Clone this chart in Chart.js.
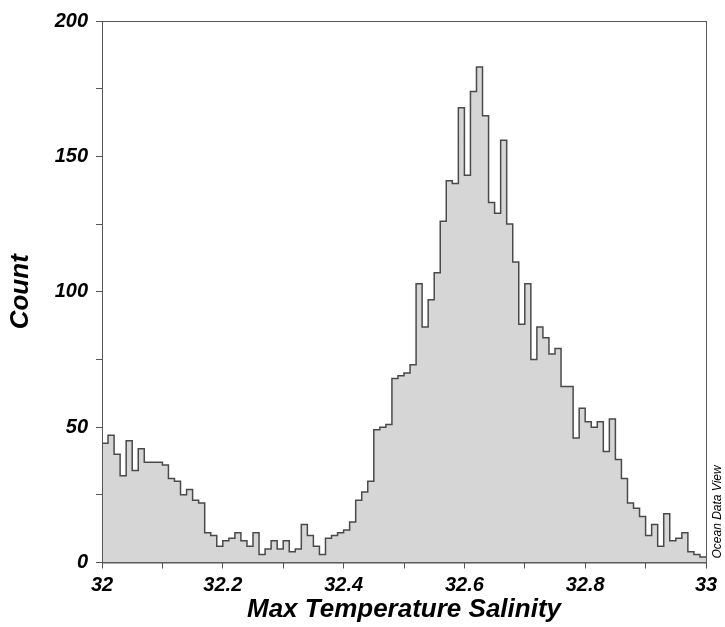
<!DOCTYPE html>
<html>
<head>
<meta charset="utf-8">
<script src="https://cdn.jsdelivr.net/npm/chart.js@4.4.1/dist/chart.umd.min.js"></script>
<style>
  body { margin: 0; background: #fff; }
  #wrap { width: 725px; height: 627px; }
</style>
</head>
<body>
<div id="wrap"><canvas id="histChart" width="725" height="627"></canvas></div>
<script>
// histogram bins: 32.00 .. 33.00, width 0.01
const binStart = 32;
const binWidth = 0.01;
const counts = [
  44, 47, 40, 32, 45, 34, 42, 37, 37, 37,
  36, 31, 30, 25, 27, 23, 22, 11, 10, 6,
  8, 9, 11, 8, 6, 11, 3, 5, 8, 5,
  8, 4, 5, 14, 10, 6, 3, 9, 10, 11,
  12, 15, 23, 26, 30, 49, 50, 51, 68, 69,
  70, 73, 103, 87, 97, 107, 126, 141, 140, 168,
  143, 174, 183, 165, 133, 129, 156, 125, 111, 88,
  103, 75, 87, 83, 77, 79, 65, 65, 46, 57,
  52, 50, 52, 41, 53, 38, 31, 22, 20, 17,
  10, 14, 6, 18, 8, 9, 11, 4, 3, 2
];
const xTickLabels = ["32", "32.2", "32.4", "32.6", "32.8", "33"];
const yTickLabels = ["0", "50", "100", "150", "200"];

//step outline: each point is a left bin edge, last one closes at 33
const stepPoints = counts.map((c, i) => ({x: binStart + i * binWidth, y: c}));
stepPoints.push({x: binStart + counts.length * binWidth, y: counts[counts.length - 1]});

const tickFont = {family: "'Liberation Sans', Arial, sans-serif", size: 20, weight: "bold", style: "italic"};
const titleFont = {family: "'Liberation Sans', Arial, sans-serif", size: 26, weight: "bold", style: "italic"};

//box round the plot + the little watermark text
const framePlugin = {
  id: "frame",
  afterDraw(chart) {
    const {ctx, chartArea: a} = chart;
    ctx.save();
    ctx.strokeStyle = "#555";
    ctx.lineWidth = 1;
    ctx.strokeRect(a.left + 0.5, a.top + 0.5, a.right - a.left, a.bottom - a.top);
    ctx.translate(a.right + 12, a.bottom - 4);
    ctx.rotate(-Math.PI / 2);
    ctx.fillStyle = "#000";
    ctx.font = "italic 12px 'Liberation Sans', Arial, sans-serif";
    ctx.textAlign = "left";
    ctx.textBaseline = "middle";
    ctx.fillText("Ocean Data View", 0, 0);
    ctx.restore();
  }
};

new Chart(document.getElementById("histChart").getContext("2d"), {
  type: "line",
  data: {
    datasets: [{
      data: stepPoints,
      stepped: "before",
      fill: "origin",
      backgroundColor: "#d6d6d6",
      borderColor: "#4a4a4a",
      borderWidth: 1.5,
      pointRadius: 0
    }]
  },
  options: {
    responsive: false,
    animation: false,
    layout: {padding: {top: 21, right: 19, left: 0, bottom: 0}},
    plugins: {legend: {display: false}, tooltip: {enabled: false}},
    scales: {
      x: {
        type: "linear",
        min: 32,
        max: 33,
        afterFit: (s) => { s.height = 64.5; },
        grid: {drawOnChartArea: false, tickLength: 6, color: "#555"},
        border: {color: "#555"},
        ticks: {
          stepSize: 0.1,
          padding: 5,
          color: "#000",
          font: tickFont,
          maxRotation: 0,
          autoSkip: false,
          callback: (v) => {
            const k = Math.round((v - 32) * 10);
            return k % 2 === 0 ? xTickLabels[k / 2] : "";
          }
        },
        title: {display: true, text: "Max Temperature Salinity", color: "#000", font: titleFont, padding: {top: 0, bottom: 1.5}}
      },
      y: {
        min: 0,
        max: 200,
        afterFit: (s) => { s.width = 102; },
        grid: {drawOnChartArea: false, tickLength: 6, color: "#555"},
        border: {color: "#555"},
        ticks: {
          stepSize: 25,
          padding: 8,
          color: "#000",
          font: tickFont,
          callback: (v) => v % 50 === 0 ? yTickLabels[v / 50] : ""
        },
        title: {display: true, text: "Count", color: "#000", font: titleFont, padding: {top: 5, bottom: 0}}
      }
    }
  },
  plugins: [framePlugin]
});
</script>
</body>
</html>
